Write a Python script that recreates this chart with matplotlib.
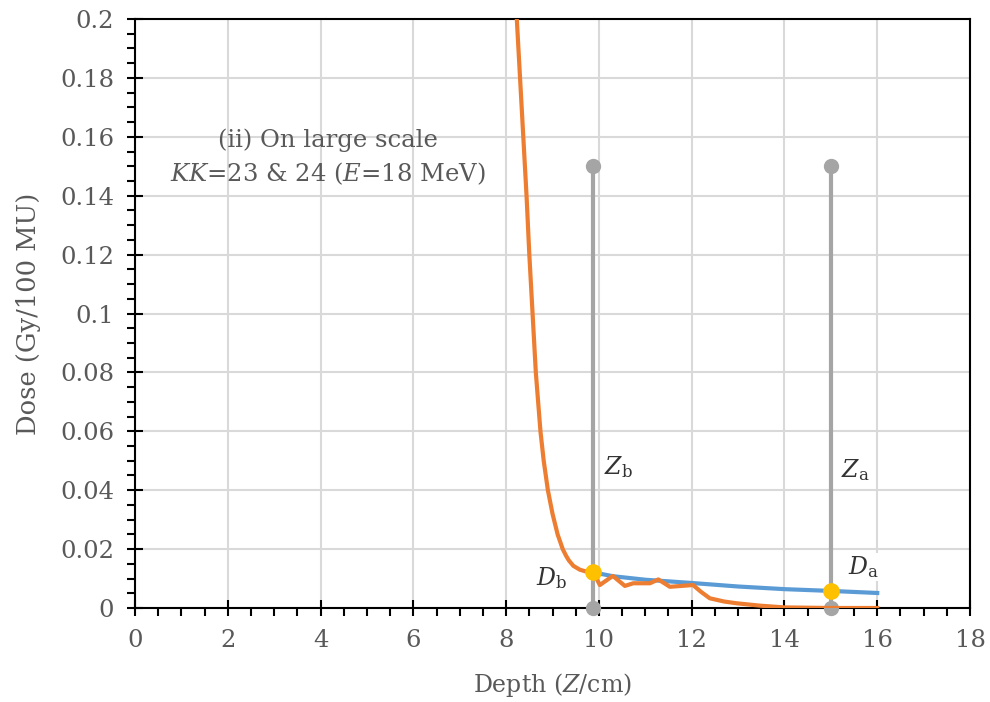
import numpy as np
import matplotlib.pyplot as plt
from matplotlib.ticker import MultipleLocator

# depth-dose data
orange_x = [8.23, 8.30, 8.37, 8.44, 8.50, 8.57, 8.64, 8.69, 8.74, 8.81, 8.90, 9.00,
            9.11, 9.22, 9.29, 9.35, 9.45, 9.59, 9.72, 9.88,
            10.02, 10.30, 10.56, 10.74, 11.10, 11.28, 11.53, 12.03, 12.20, 12.39, 12.70,
            12.97, 13.47, 14.0, 15.0, 16.0]
orange_y = [0.200, 0.180, 0.160, 0.140, 0.120, 0.100, 0.080, 0.070, 0.060, 0.050,
            0.040, 0.032, 0.025, 0.020, 0.0178, 0.0162, 0.0143, 0.0130, 0.0124, 0.0121,
            0.0078, 0.0109, 0.0075, 0.0084, 0.0084, 0.0097, 0.0072, 0.0078,
            0.0055, 0.0033, 0.0022, 0.0016, 0.0008, 0.0002, 0.0, 0.0]
blue_x = [9.88, 10.3, 11.0, 12.0, 13.0, 14.0, 15.0, 16.0]
blue_y = [0.0121, 0.0108, 0.0096, 0.0085, 0.0073, 0.0064, 0.0058, 0.0051]

depth_z = [9.87, 15.0]          # Zb, Za
dose_d = [0.0121, 0.0058]       # Db, Da
line_top = 0.15

txt = "#595959"
plt.rcParams['font.family'] = ['DejaVu Serif']
plt.rcParams['mathtext.fontset'] = 'dejavuserif'

fig = plt.figure(figsize=(9.9, 7.02), dpi=100)
ax = fig.add_axes([0.1364, 0.1339, 0.8434, 0.839])

ax.grid(True, which='major', color='#d9d9d9', linewidth=1.5)
ax.set_axisbelow(True)

# vertical depth markers
for z in depth_z:
    ax.plot([z, z], [0, line_top], color='#a5a5a5', linewidth=3, zorder=3)
    ax.plot([z, z], [0, line_top], 'o', color='#a5a5a5', markersize=10, zorder=4, clip_on=False)

ax.plot(blue_x, blue_y, color='#5b9bd5', linewidth=3, zorder=5)
ax.plot(orange_x, orange_y, color='#ed7d31', linewidth=3, zorder=6)
ax.plot(depth_z, dose_d, 'o', color='#ffc000', markersize=11, zorder=7)

box = dict(facecolor='white', edgecolor='none', pad=1)
ax.text(10.41, 0.048, r'$Z_{\rm b}$', fontsize=17, color='#333333', ha='center', va='center', zorder=8)
ax.text(15.52, 0.047, r'$Z_{\rm a}$', fontsize=17, color='#333333', ha='center', va='center', zorder=8)
ax.text(8.97, 0.0102, r'$D_{\rm b}$', fontsize=17, color='#333333', ha='center', va='center', bbox=box, zorder=8)
ax.text(15.71, 0.0139, r'$D_{\rm a}$', fontsize=17, color='#333333', ha='center', va='center', bbox=box, zorder=8)

ax.text(4.16, 0.159, '(ii) On large scale', fontsize=17.5, color=txt, ha='center', va='center')
ax.text(4.16, 0.1475, r'$KK$=23 & 24 ($E$=18 MeV)', fontsize=17.5, color=txt, ha='center', va='center')

ax.set_xlim(0, 18)
ax.set_ylim(0, 0.2)
ax.xaxis.set_major_locator(MultipleLocator(2))
ax.xaxis.set_minor_locator(MultipleLocator(0.5))
ax.yaxis.set_minor_locator(MultipleLocator(0.005))
ax.set_yticks(np.arange(0, 0.201, 0.02))
ax.set_yticklabels(['0', '0.02', '0.04', '0.06', '0.08', '0.1', '0.12', '0.14', '0.16', '0.18', '0.2'])

ax.tick_params(which='major', direction='inout', length=12, width=1.5, labelsize=17.5, labelcolor=txt)
ax.tick_params(which='minor', direction='out', length=6, width=1.5)
ax.tick_params(axis='y', pad=9)
ax.tick_params(axis='x', pad=9)
for s in ax.spines.values():
    s.set_linewidth(1.5)

ax.set_xlabel(r'Depth ($Z$/cm)', fontsize=17, color=txt, labelpad=14)
ax.set_ylabel('Dose (Gy/100 MU)', fontsize=18.5, color=txt, labelpad=14)

fig.savefig('out.png', dpi=100)
